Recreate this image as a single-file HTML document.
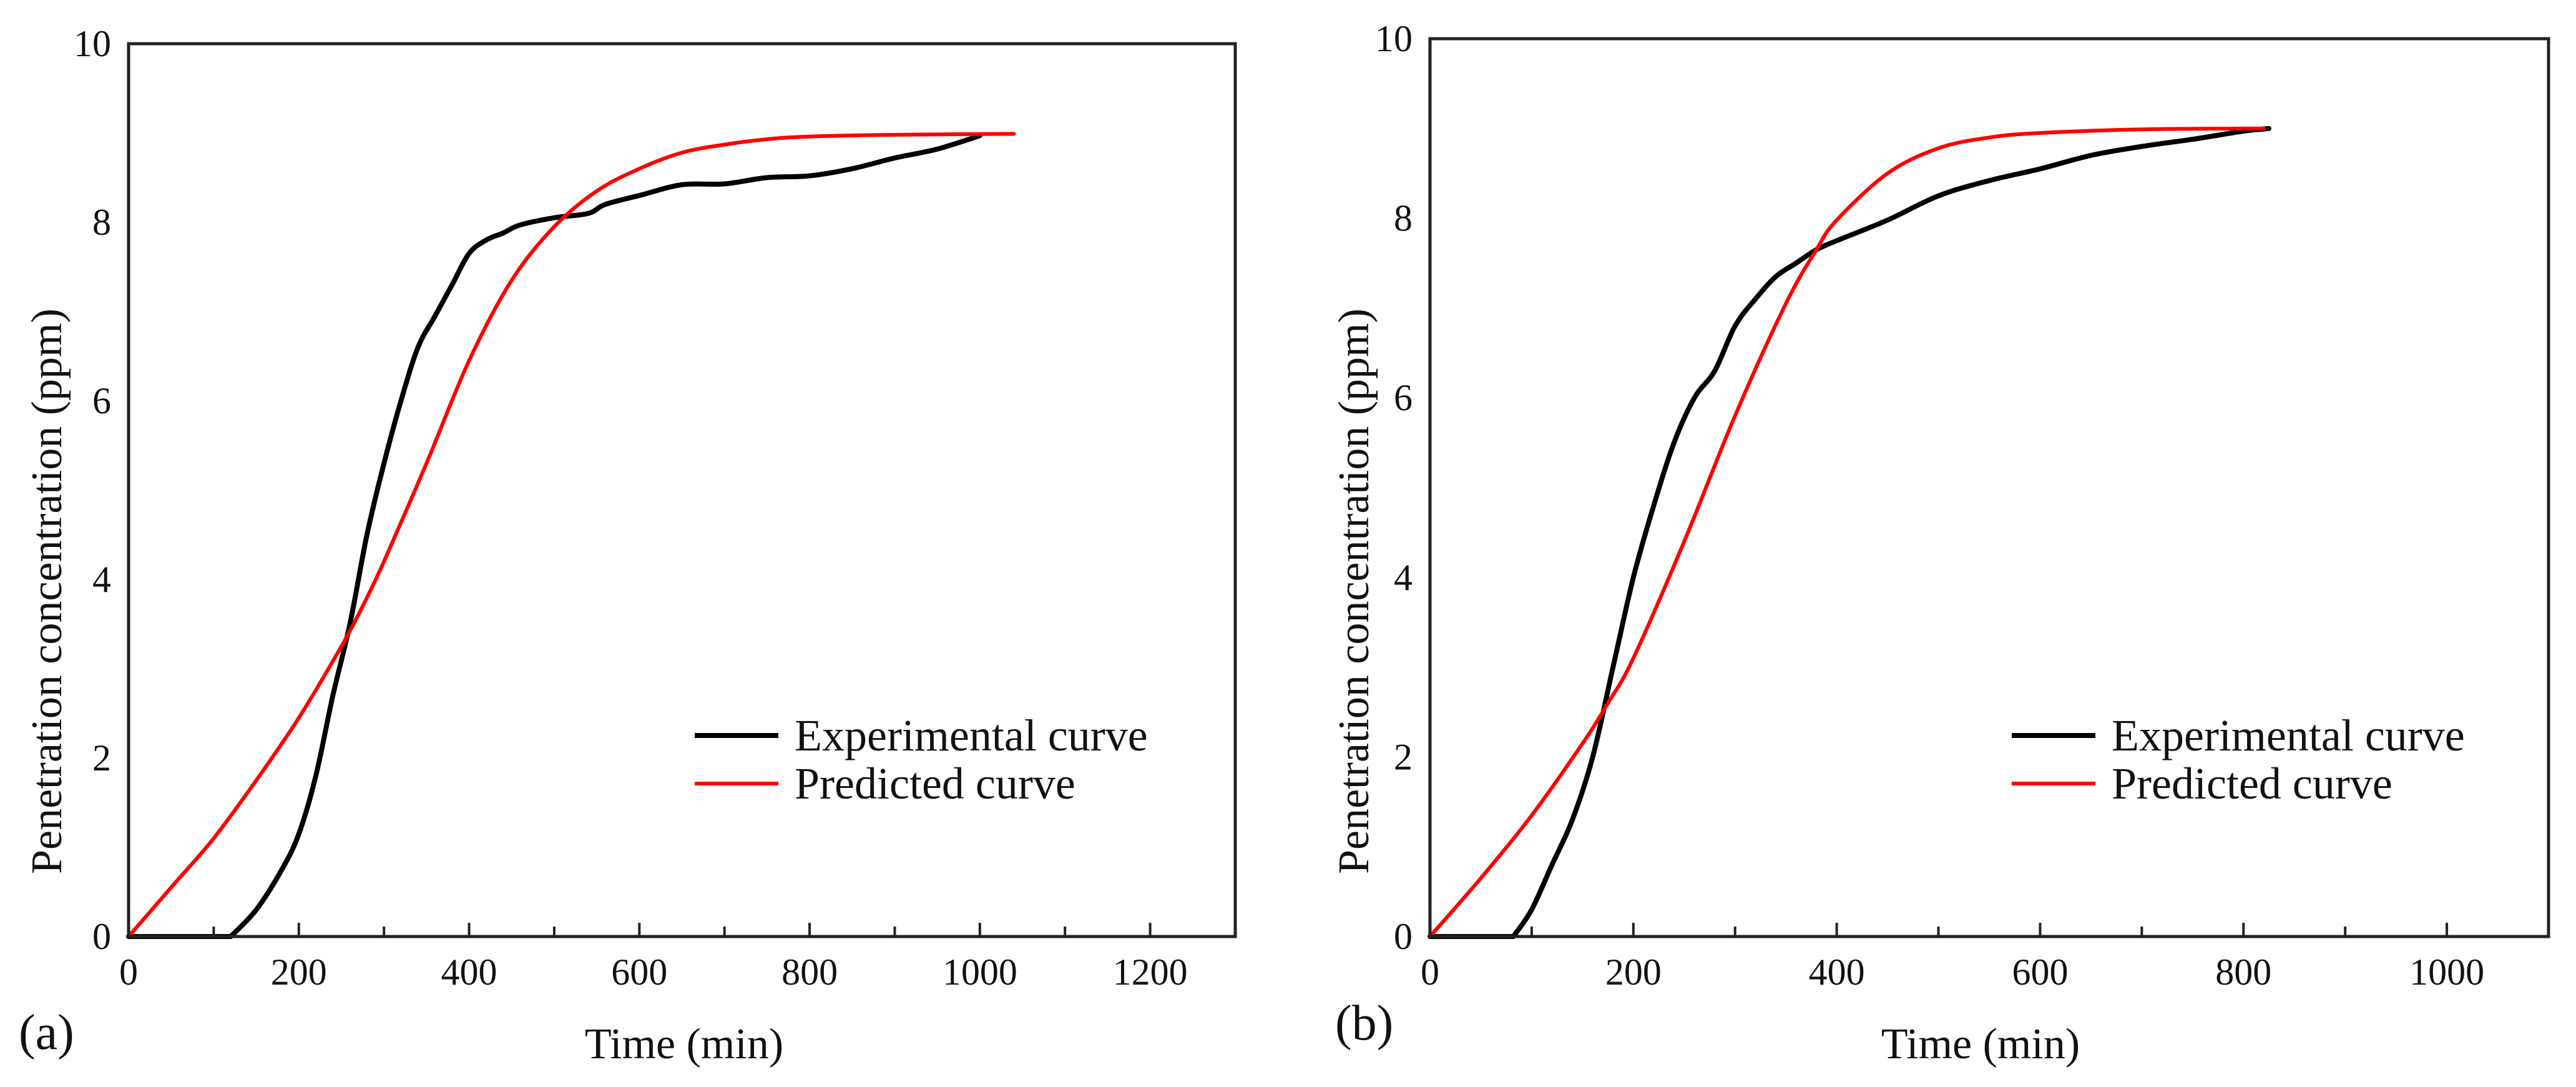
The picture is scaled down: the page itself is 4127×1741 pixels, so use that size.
<!DOCTYPE html>
<html><head><meta charset="utf-8"><style>
html,body{margin:0;padding:0;background:#fff}
svg{display:block}
text{font-family:"Liberation Serif",serif;fill:#111}
</style></head><body>
<svg id="fig" width="4127" height="1741" viewBox="0 0 4127 1741" xmlns="http://www.w3.org/2000/svg"></svg>
<script>
const expAX=[120,150,180,200,220,240,260,280,300,320,340,360,380,400,420,440,460,500,540,560,600,650,700,750,800,850,900,950,1000];
const expAY=[0,0.3,0.75,1.15,1.8,2.7,3.5,4.5,5.3,6.0,6.6,6.95,7.3,7.65,7.8,7.88,7.97,8.05,8.1,8.2,8.3,8.42,8.43,8.5,8.52,8.6,8.72,8.82,8.97];
const preAX=[0,50,100,150,200,250,275,300,350,400,450,500,550,600,650,700,750,800,900,1040];
const preAY=[0,0.55,1.1,1.75,2.45,3.25,3.7,4.2,5.3,6.45,7.35,7.95,8.35,8.6,8.78,8.87,8.93,8.96,8.98,8.99];
const expBX=[82,100,120,140,160,180,200,220,240,260,280,300,320,340,360,380,400,450,500,550,600,650,700,750,800,825];
const expBY=[0,0.3,0.8,1.3,2.0,3.0,4.0,4.8,5.5,6.0,6.3,6.8,7.1,7.35,7.5,7.65,7.75,7.98,8.25,8.42,8.55,8.7,8.8,8.88,8.97,9.0];
const preBX=[0,50,100,150,175,200,250,300,350,380,400,450,500,550,600,700,820];
const preBY=[0,0.65,1.35,2.15,2.6,3.1,4.4,5.8,7.05,7.65,7.98,8.5,8.78,8.9,8.95,8.99,9.0];
const yTicks=[0,2,4,6,8,10];
const xTicksA=[0,200,400,600,800,1000,1200];
const xTicksB=[0,200,400,600,800,1000];

const NS="http://www.w3.org/2000/svg";
const svg=document.getElementById('fig');
function el(tag,attrs,parent){const e=document.createElementNS(NS,tag);for(const k in attrs)e.setAttribute(k,attrs[k]);(parent||svg).appendChild(e);return e;}
function smoothPath(pts,start){
  let d=start?('M'+start[0].toFixed(1)+','+start[1].toFixed(1)+' L'):'M';
  d+=pts[0][0].toFixed(1)+','+pts[0][1].toFixed(1);
  for(let i=0;i<pts.length-1;i++){
    const p0=pts[Math.max(0,i-1)],p1=pts[i],p2=pts[i+1],p3=pts[Math.min(pts.length-1,i+2)];
    const c1=[p1[0]+(p2[0]-p0[0])/6,p1[1]+(p2[1]-p0[1])/6];
    const c2=[p2[0]-(p3[0]-p1[0])/6,p2[1]-(p3[1]-p1[1])/6];
    d+=' C'+c1.map(v=>v.toFixed(1)).join(',')+' '+c2.map(v=>v.toFixed(1)).join(',')+' '+p2[0].toFixed(1)+','+p2[1].toFixed(1);
  }
  return d;
}

function panel(cfg){
  const g=el('g',{});
  
  
  const L=cfg.left,R=cfg.right,T=cfg.top,B=cfg.bottom;
  const sx=v=>L+(v/cfg.xmax)*(R-L);
  const sy=v=>B-(v/10)*(B-T);
  function line(xs,ys,color,w,name){
    const pts=xs.map((x,i)=>[sx(x),sy(ys[i])]);
    const start=xs[0]>0?[sx(0),sy(0)]:null;
    const pl=el('path',{d:smoothPath(pts,start),fill:'none',stroke:color,'stroke-width':w,'stroke-linejoin':'round','stroke-linecap':'round'},g);
    
    
  }
  line(cfg.ex,cfg.ey,'#000',8,cfg.id+'-experimental-curve');
  line(cfg.px,cfg.py,'#f00',6,cfg.id+'-predicted-curve');
  const fr=el('rect',{x:L,y:T,width:R-L,height:B-T,fill:'none',stroke:'#222','stroke-width':5},g);
  
  
  for(let v=0;v<=cfg.xmax;v+=100){
    const major=v%200===0;
    el('line',{x1:sx(v),x2:sx(v),y1:B,y2:B-(major?22:16),stroke:'#222','stroke-width':4},g);
  }
  cfg.xt.forEach(v=>{
    const t=el('text',{x:sx(v),y:1577,'font-size':60,'text-anchor':'middle'},g);
    t.textContent=v;
    
    
  });
  yTicks.forEach(v=>{
    const t=el('text',{x:L-28,y:sy(v)+20,'font-size':60,'text-anchor':'end'},g);
    t.textContent=v;
    
    
  });
  const xt=el('text',{x:cfg.xtc,y:1695,'font-size':70,'text-anchor':'middle'},g);
  xt.textContent='Time (min)';
  
  
  const yt=el('text',{x:0,y:0,'font-size':70,'text-anchor':'middle',transform:'translate('+(cfg.ytx+24)+',947) rotate(-90)'},g);
  yt.textContent='Penetration concentration (ppm)';
  
  
  const pl=el('text',{x:cfg.lx,y:cfg.ly,'font-size':80},g);
  pl.textContent=cfg.label;
  
  
  const lg=el('g',{},g);
  
  
  [['#000','Experimental curve',1178,8],['#f00','Predicted curve',1255,6]].forEach(([c,txt,y,w])=>{
    const e=el('g',{},lg);
    
    
    el('line',{x1:cfg.legX,x2:cfg.legX+134,y1:y,y2:y,stroke:c,'stroke-width':w},e);
    const t=el('text',{x:cfg.legX+160,y:y+24,'font-size':72},e);
    t.textContent=txt;
  });
}
panel({id:'panel-a',left:206,right:1979,top:70,bottom:1500,xmax:1300,ex:expAX,ey:expAY,px:preAX,py:preAY,xt:xTicksA,xtc:1096,ytx:74,lx:30,ly:1680,label:'(a)',legX:1113});
panel({id:'panel-b',left:2291,right:4083,top:62,bottom:1500,xmax:1100,ex:expBX,ey:expBY,px:preBX,py:preBY,xt:xTicksB,xtc:3173,ytx:2168,lx:2139,ly:1665,label:'(b)',legX:3223});
</script>
</body></html>
